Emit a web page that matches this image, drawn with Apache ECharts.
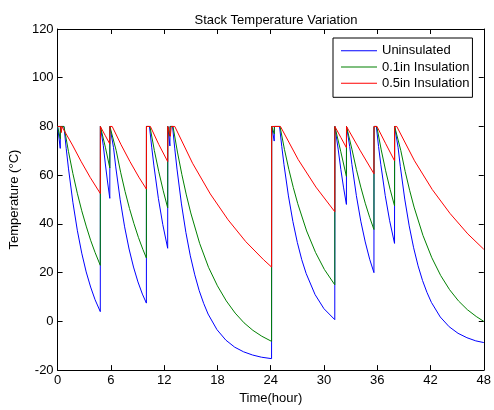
<!DOCTYPE html>
<html>
<head>
<meta charset="utf-8">
<script src="https://cdn.jsdelivr.net/npm/echarts@6/dist/echarts.min.js"></script>
<style>
html,body{margin:0;padding:0;background:#fff;}
#chart{width:494px;height:410px;}
</style>
</head>
<body>
<div id="chart"></div>
<script>
var titleText = 'Stack Temperature Variation';
var seriesNames = ['Uninsulated', '0.1in Insulation', '0.5in Insulation'];
var seriesColors = ['#0000ff', '#008000', '#ff0000'];

var blueData = [
[0,80],[0.3,71],[0.32,80],[0.72,80],[0.97,71.0],[1.22,62.9],[1.72,48.9],[2.22,37.4],[2.72,28.0],[3.22,20.3],[3.72,14.1],[4.22,8.9],[4.81,4],
[4.82,80],[4.93,80],[5.15,72.1],[5.38,64.6],[5.63,57.2],[5.88,50.5],
[5.89,80],[6.05,80],[6.3,71.3],[6.55,63.4],[7.05,49.9],[7.55,38.8],[8.05,29.7],[8.55,22.3],[9.05,16.2],[9.55,11.2],[10.0,7.5],
[10.01,80],[10.35,80],[10.6,71.5],[10.85,63.8],[11.35,50.5],[11.85,39.7],[12.4,30],
[12.41,80],[12.65,72],[12.67,80],[12.95,80],[13.2,70.8],[13.45,62.5],[13.95,48.2],[14.45,36.5],[14.95,26.9],[15.45,19.1],[15.95,12.6],[16.45,7.4],[16.95,3.0],[17.95,-3.4],[18.95,-7.7],[19.95,-10.6],[20.95,-12.5],[21.95,-13.8],[22.95,-14.7],[24.1,-15.3],
[24.11,80],[24.4,74],[24.42,80],[25.0,80],[25.25,71.8],[25.5,64.3],[26.0,51.5],[26.5,41.0],[27.0,32.4],[27.5,25.3],[28.0,19.6],[29.0,11.0],[30.0,5.2],[31.22,0.7],
[31.23,80],[31.3,80],[31.6,70.7],[31.9,62.4],[32.2,55.1],[32.53,48],
[32.54,80],[32.65,80],[32.9,71.8],[33.15,64.4],[33.65,51.6],[34.15,41.1],[34.65,32.6],[35.15,25.5],[35.63,20],
[35.64,80],[35.9,80],[36.15,71.8],[36.4,64.5],[36.9,51.7],[37.4,41.3],[37.95,32],
[37.96,80],[38.1,80],[38.35,71.4],[38.6,63.6],[39.1,50.2],[39.6,39.2],[40.1,30.2],[40.6,22.8],[41.1,16.8],[41.6,11.9],[42.1,7.8],[43.1,1.8],[44.1,-2.2],[45.1,-4.9],[46.1,-6.7],[47.1,-8.0],[48,-8.7]
];

var greenData = [
[0,80],[0.3,75],[0.32,80],[0.72,80],[1.22,69.8],[1.72,60.7],[2.22,52.6],[2.72,45.4],[3.22,39.1],[3.72,33.3],[4.22,28.3],[4.81,23],
[4.82,80],[4.93,80],[5.38,71.5],[5.88,63],
[5.89,80],[6.1,80],[6.6,70.1],[7.1,61.2],[7.6,53.3],[8.1,46.3],[8.6,40.1],[9.1,34.5],[9.6,29.6],[10.0,26],
[10.01,80],[10.4,80],[10.9,70.1],[11.4,61.4],[11.9,53.6],[12.4,46.6],
[12.41,80],[12.65,76],[12.67,80],[13.0,80],[13.5,69.5],[14.0,60.2],[14.5,51.9],[15.0,44.5],[16.0,32.0],[17.0,22.2],[18.0,14.6],[19.0,8.4],[20.0,3.4],[21.0,-0.6],[22.0,-3.7],[23.0,-6.1],[24.1,-8.2],
[24.11,80],[24.4,77],[24.42,80],[25.05,80],[25.55,70.6],[26.05,62.3],[26.55,54.9],[27.05,48.3],[28.05,37.1],[29.05,28.3],[30.05,21.3],[31.22,15],
[31.23,80],[31.3,80],[31.9,69.6],[32.53,59.5],
[32.54,80],[32.65,80],[33.15,70.7],[33.65,62.4],[34.15,55.1],[34.65,48.5],[35.15,42.7],[35.63,37.7],
[35.64,80],[35.95,80],[36.45,70.4],[36.95,61.8],[37.45,54.2],[37.95,47.4],
[37.96,80],[38.15,80],[38.65,70.2],[39.15,61.5],[39.65,53.8],[40.15,46.9],[41.15,35.3],[42.15,26.1],[43.15,18.8],[44.15,13.0],[45.15,8.4],[46.15,4.8],[47.15,2.0],[48,0]
];

var redData = [
[0,80],[0.35,80],[0.42,77.5],[0.48,80],[0.67,80],[1.67,72.4],[2.67,65.5],[3.67,59.1],[4.81,52.5],
[4.82,80],[5.35,76.4],[5.88,72.8],
[5.89,80],[6.15,80],[7.15,72.5],[8.15,65.6],[9.15,59.2],[10.0,54.3],
[10.01,80],[10.45,80],[11.4,72.6],[12.4,65.6],
[12.41,80],[12.6,80],[12.7,76],[12.8,80],[13.2,80],[15.2,64.9],[17.2,52.3],[19.2,41.7],[21.2,32.7],[23.2,25.3],[24.1,22.3],
[24.11,80],[25.1,80],[27.1,66.4],[29.1,55.1],[31.22,45],
[31.23,80],[31.9,75.5],[32.53,71.3],
[32.54,80],[32.6,80],[34.1,70.0],[35.63,60.6],
[35.64,80],[35.97,80],[36.96,72.9],[37.95,65.9],
[37.96,80],[38.2,80],[40.2,65.9],[42.2,54.1],[44.2,44.3],[46.2,35.9],[48,29.6]
];

var xRange = [0, 48, 6];
var yRange = [-20, 120, 20];

var font = 'Liberation Sans, Arial, Helvetica, sans-serif';
var chart = echarts.init(document.getElementById('chart'), null, {renderer: 'canvas'});

function axisBase(extra) {
  var base = {
    axisLine: {show: true, onZero: false, lineStyle: {color: '#000', width: 1}},
    axisTick: {show: true, inside: true, length: 5, lineStyle: {color: '#000', width: 1}},
    splitLine: {show: false},
    axisLabel: {show: false}
  };
  for (var k in extra) base[k] = extra[k];
  return base;
}

var dataSets = [blueData, greenData, redData];
var series = dataSets.map(function (d, i) {
  return {
    name: seriesNames[i],
    type: 'line',
    data: d,
    symbol: 'none',
    showSymbol: false,
    lineStyle: {color: seriesColors[i], width: 1},
    itemStyle: {color: seriesColors[i]},
    z: 2 + i,
    animation: false
  };
});

chart.setOption({
  animation: false,
  backgroundColor: '#fff',
  textStyle: {fontFamily: font},
  title: {
    text: titleText,
    left: 271, top: 9, textAlign: 'center',
    textStyle: {fontSize: 13, fontWeight: 'normal', color: '#000', fontFamily: font}
  },
  legend: {
    data: seriesNames,
    orient: 'vertical',
    left: 333, top: 38,
    icon: 'rect',
    itemWidth: 36, itemHeight: 1, itemGap: 2.3,
    padding: [5.7, 3, 7, 8],
    borderColor: '#000', borderWidth: 1, backgroundColor: '#fff',
    textStyle: {fontSize: 13, lineHeight: 14, color: '#000', fontFamily: font},
    z: 10
  },
  grid: {left: 56, right: 7, top: 29, bottom: 38, containLabel: false},
  xAxis: [
    axisBase({
      type: 'value', position: 'bottom', min: xRange[0], max: xRange[1], interval: xRange[2],
      axisLabel: {show: true, color: '#000', fontSize: 13, margin: 4, fontFamily: font},
      name: 'Time(hour)', nameLocation: 'middle', nameGap: 20,
      nameTextStyle: {color: '#000', fontSize: 13, fontFamily: font}
    }),
    axisBase({type: 'value', position: 'top', min: xRange[0], max: xRange[1], interval: xRange[2]})
  ],
  yAxis: [
    axisBase({
      type: 'value', position: 'left', min: yRange[0], max: yRange[1], interval: yRange[2],
      axisLabel: {show: true, color: '#000', fontSize: 13, margin: 4, fontFamily: font},
      name: 'Temperature (\u00B0C)', nameLocation: 'middle', nameGap: 31,
      nameTextStyle: {color: '#000', fontSize: 13, fontFamily: font}
    }),
    axisBase({type: 'value', position: 'right', min: yRange[0], max: yRange[1], interval: yRange[2]})
  ],
  series: series
});
</script>
</body>
</html>
